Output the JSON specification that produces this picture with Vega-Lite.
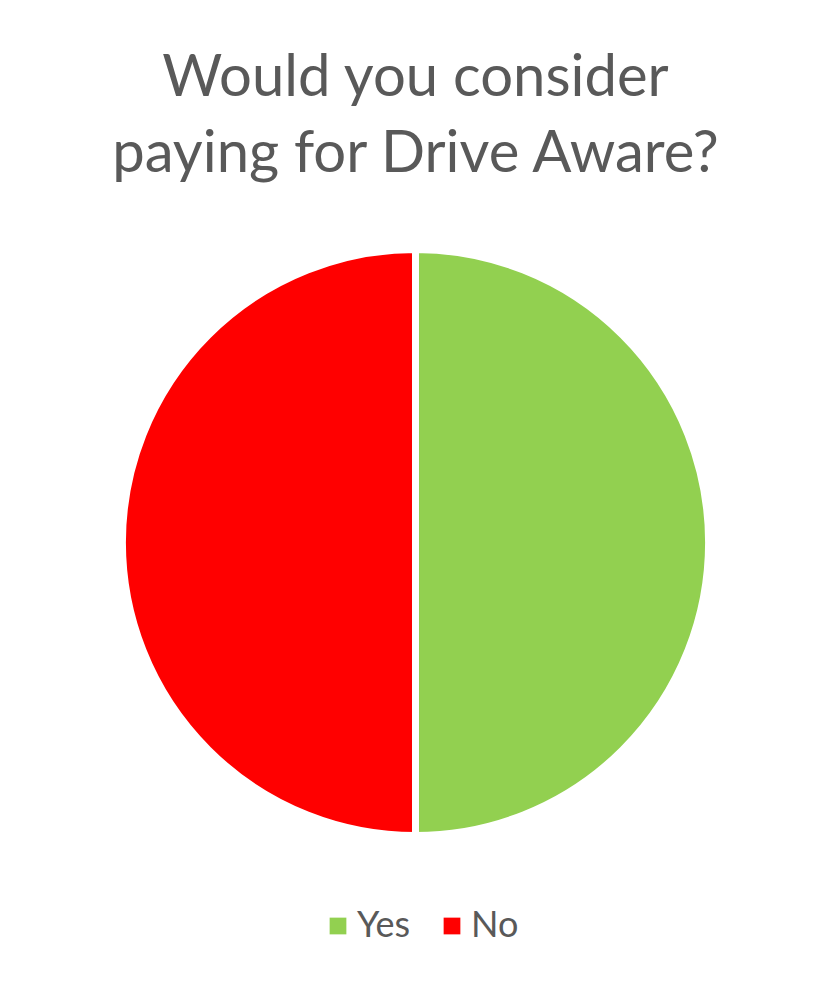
{
  "$schema": "https://vega.github.io/schema/vega-lite/v6.json",
  "width": 831,
  "height": 899,
  "autosize": {"type": "none"},
  "padding": {"top": 93, "left": 0, "right": 0, "bottom": 0},
  "background": "white",
  "title": {
    "text": ["Would you consider", "paying for Drive Aware?"],
    "orient": "top",
    "anchor": "middle",
    "frame": "group",
    "offset": -137,
    "baseline": "alphabetic",
    "lineHeight": 76,
    "font": "Lato",
    "fontSize": 58,
    "fontWeight": "normal",
    "color": "#595959"
  },
  "data": {
    "values": [
      {"answer": "Yes", "share": 50, "rank": 1},
      {"answer": "No", "share": 50, "rank": 2}
    ]
  },
  "mark": {"type": "arc", "outerRadius": 293, "stroke": "white", "strokeWidth": 7},
  "encoding": {
    "theta": {"field": "share", "type": "quantitative", "stack": true},
    "order": {"field": "rank", "type": "quantitative"},
    "color": {
      "field": "answer",
      "type": "nominal",
      "sort": ["Yes", "No"],
      "scale": {"domain": ["Yes", "No"], "range": ["#92D050", "#FF0000"]},
      "legend": {
        "title": null,
        "orient": "none",
        "legendX": 320,
        "legendY": 815,
        "direction": "horizontal",
        "padding": 0,
        "gridAlign": "none",
        "symbolType": "square",
        "symbolSize": 280,
        "symbolStrokeWidth": 0,
        "symbolOpacity": 1,
        "labelFont": "Lato",
        "labelFontSize": 36,
        "labelColor": "#595959",
        "labelOffset": 1,
        "columnPadding": 23
      }
    }
  },
  "config": {"view": {"stroke": null}}
}
